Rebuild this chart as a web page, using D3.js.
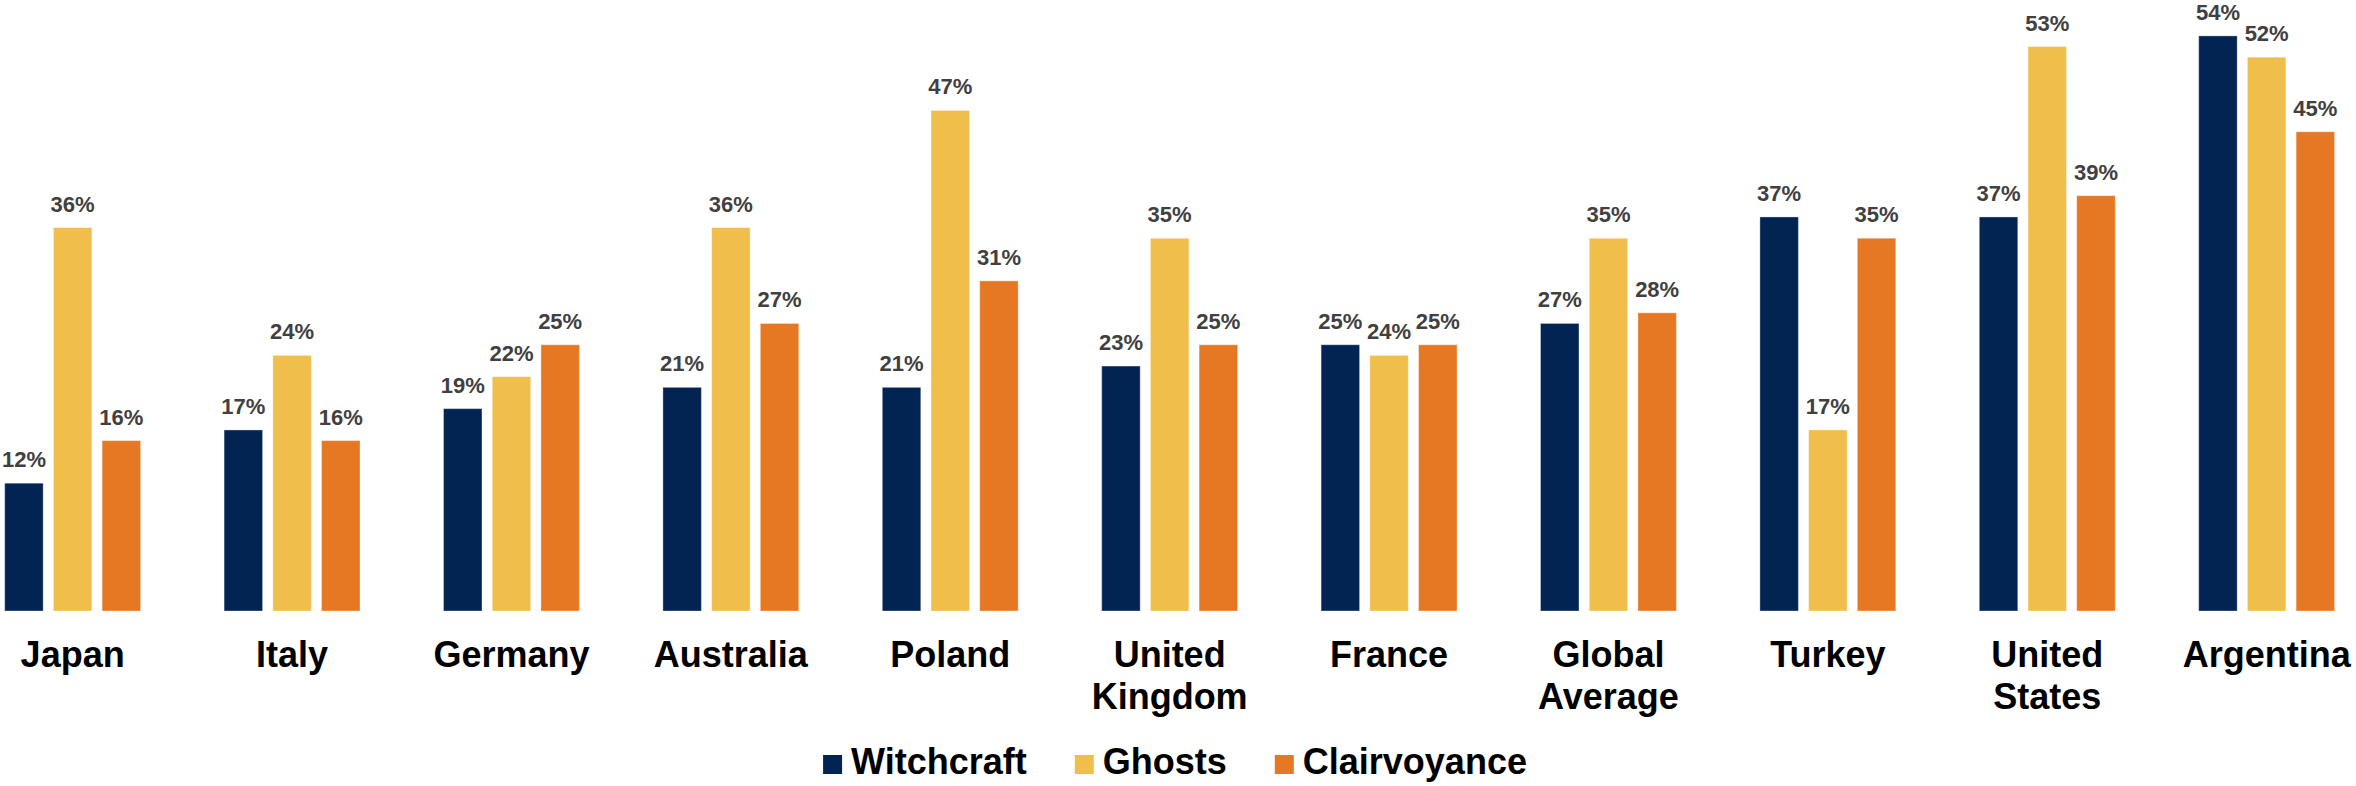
<!DOCTYPE html>
<html>
<head>
<meta charset="utf-8">
<script src="https://cdn.jsdelivr.net/npm/d3@7"></script>
<style>
  body { margin: 0; background: #fff; }
  text { font-family: "Liberation Sans", Arial, sans-serif; font-weight: bold; }
</style>
</head>
<body>
<script>
// data (percent)
const countries = ["Japan", "Italy", "Germany", "Australia", "Poland", "United Kingdom",
  "France", "Global Average", "Turkey", "United States", "Argentina"];
const seriesNames = ["Witchcraft", "Ghosts", "Clairvoyance"];
const witchcraft   = [12, 17, 19, 21, 21, 23, 25, 27, 37, 37, 54];
const ghosts       = [36, 24, 22, 36, 47, 35, 24, 35, 17, 53, 52];
const clairvoyance = [16, 16, 25, 27, 31, 25, 25, 28, 35, 39, 45];
const colors = ["#012453", "#f0be4b", "#e77823"];

const width = 2356;
const height = 786;

const rows = countries.map((c, i) => ({
  country: c,
  values: [witchcraft[i], ghosts[i], clairvoyance[i]]
}));

const svg = d3.select("body").append("svg")
  .attr("width", width)
  .attr("height", height)
  .attr("viewBox", [0, 0, width, height]);

const x0 = d3.scaleBand()
  .domain(countries)
  .range([4.7, 2334.6])
  .paddingInner(0.3806)
  .paddingOuter(0);

const x1 = d3.scaleBand()
  .domain(seriesNames)
  .range([0, x0.bandwidth()])
  .paddingInner(0.21)
  .paddingOuter(0);

const y = d3.scaleLinear()
  .domain([0, 54])
  .range([611, 35.9]);

const groups = svg.append("g")
  .selectAll("g")
  .data(rows)
  .join("g")
  .attr("transform", d => `translate(${x0(d.country)},0)`);

const cells = groups.selectAll("g")
  .data(d => d.values.map((v, k) => ({ key: seriesNames[k], value: v, k })))
  .join("g");

cells.append("rect")
  .attr("x", d => x1(d.key))
  .attr("y", d => y(d.value))
  .attr("width", x1.bandwidth())
  .attr("height", d => y(0) - y(d.value))
  .attr("fill", d => colors[d.k])
  .attr("stroke", "#fff")
  .attr("stroke-opacity", 0.35)
  .attr("stroke-width", 1);

cells.append("text")
  .attr("x", d => x1(d.key) + x1.bandwidth() / 2)
  .attr("y", d => y(d.value) - 16)
  .attr("text-anchor", "middle")
  .attr("font-size", 22)
  .attr("fill", "#404040")
  .text(d => d.value + "%");

// category labels (two-word names wrap onto two lines)
const xAxis = svg.append("g");
xAxis.selectAll("text")
  .data(countries)
  .join("text")
  .attr("x", d => x0(d) + x0.bandwidth() / 2)
  .attr("y", 667)
  .attr("text-anchor", "middle")
  .attr("font-size", 36)
  .attr("fill", "#000")
  .each(function(d) {
    const lines = d.split(" ");
    d3.select(this).selectAll("tspan")
      .data(lines)
      .join("tspan")
      .attr("x", x0(d) + x0.bandwidth() / 2)
      .attr("dy", (l, i) => i === 0 ? 0 : 42)
      .text(l => l);
  });

// legend
const legend = svg.append("g");
let lx = 0;
seriesNames.forEach((name, k) => {
  const item = legend.append("g").attr("transform", `translate(${lx},0)`);
  item.append("rect")
    .attr("x", 0)
    .attr("y", 755)
    .attr("width", 19)
    .attr("height", 19)
    .attr("fill", colors[k]);
  const t = item.append("text")
    .attr("x", 28)
    .attr("y", 774)
    .attr("font-size", 36)
    .attr("fill", "#000")
    .text(name);
  lx += 28 + t.node().getComputedTextLength() + 48;
});
const legendWidth = lx - 48;
legend.attr("transform", `translate(${1175 - legendWidth / 2},0)`);
</script>
</body>
</html>
